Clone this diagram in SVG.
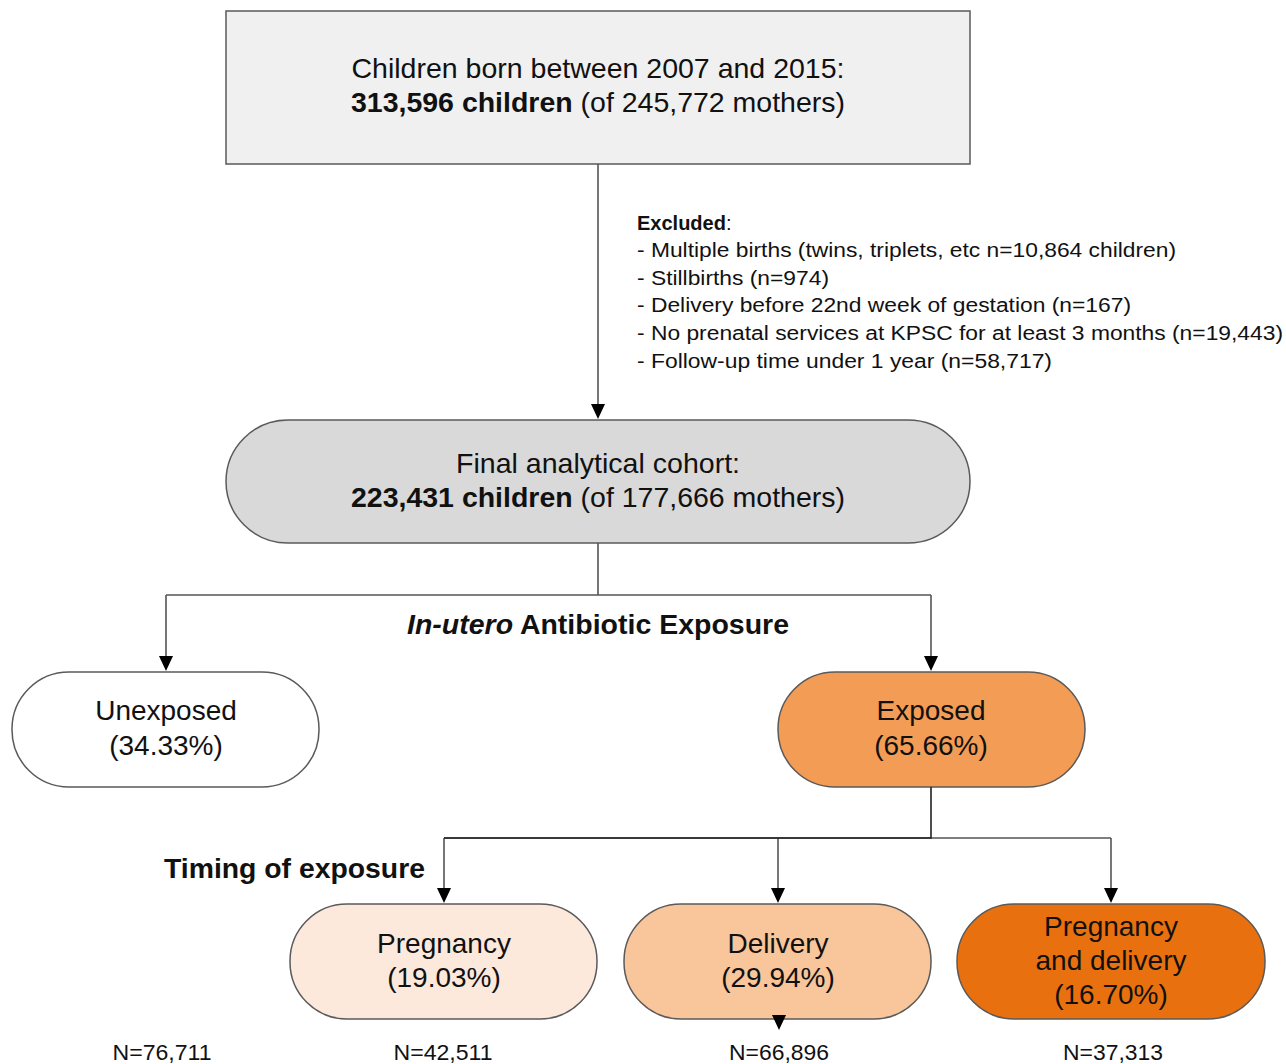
<svg xmlns="http://www.w3.org/2000/svg" width="1286" height="1064" viewBox="0 0 1286 1064">
<style>
text{font-family:"Liberation Sans",Arial,sans-serif;fill:#111}
.nar{font-size:28px}
.box{stroke:#5a5a5a;stroke-width:1.5}
.ln{fill:none;stroke:#555;stroke-width:1.6}
.ex{font-size:20px}
.lab{font-size:28px;text-anchor:middle}
.n{font-size:22px;text-anchor:middle}
.ah{fill:#000}
</style>
<rect width="1286" height="1064" fill="#fff"/>
<g id="start">
<rect class="box" x="226" y="11" width="744" height="153" fill="#f0f0f0"/>
<text class="nar" x="598" y="78" text-anchor="middle" textLength="493" lengthAdjust="spacingAndGlyphs">Children born between 2007 and 2015:</text>
<text class="nar" x="598" y="112" text-anchor="middle" textLength="494" lengthAdjust="spacingAndGlyphs"><tspan font-weight="bold">313,596 children</tspan> (of 245,772 mothers)</text>
</g>
<g id="excluded">
<text class="ex" x="637" y="230"><tspan font-weight="bold">Excluded</tspan>:</text>
<text class="ex" x="637" y="257" textLength="539" lengthAdjust="spacingAndGlyphs">- Multiple births (twins, triplets, etc n=10,864 children)</text>
<text class="ex" x="637" y="285" textLength="192" lengthAdjust="spacingAndGlyphs">- Stillbirths (n=974)</text>
<text class="ex" x="637" y="312" textLength="494" lengthAdjust="spacingAndGlyphs">- Delivery before 22nd week of gestation (n=167)</text>
<text class="ex" x="637" y="340" textLength="646" lengthAdjust="spacingAndGlyphs">- No prenatal services at KPSC for at least 3 months (n=19,443)</text>
<text class="ex" x="637" y="368" textLength="415" lengthAdjust="spacingAndGlyphs">- Follow-up time under 1 year (n=58,717)</text>
</g>
<g id="cohort">
<rect class="box" x="226" y="420" width="744" height="123" rx="62" fill="#d9d9d9"/>
<text class="nar" x="598" y="473" text-anchor="middle" textLength="284" lengthAdjust="spacingAndGlyphs">Final analytical cohort:</text>
<text class="nar" x="598" y="507" text-anchor="middle" textLength="494" lengthAdjust="spacingAndGlyphs"><tspan font-weight="bold">223,431 children</tspan> (of 177,666 mothers)</text>
</g>
<g id="exposure-label">
<text x="598" y="634" text-anchor="middle" font-size="27" font-weight="bold" textLength="382" lengthAdjust="spacingAndGlyphs"><tspan font-style="italic">In-utero</tspan> Antibiotic Exposure</text>
</g>
<g id="unexposed">
<rect class="box" x="12" y="672" width="307" height="115" rx="57" fill="#fff"/>
<text class="lab" x="166" y="720">Unexposed</text>
<text class="lab" x="166" y="755">(34.33%)</text>
</g>
<g id="exposed">
<rect class="box" x="778" y="672" width="307" height="115" rx="57" fill="#f39c55"/>
<text class="lab" x="931" y="720">Exposed</text>
<text class="lab" x="931" y="755">(65.66%)</text>
</g>
<g id="timing-label">
<text x="164" y="878" font-size="27" font-weight="bold" textLength="261" lengthAdjust="spacingAndGlyphs">Timing of exposure</text>
</g>
<g id="pregnancy">
<rect class="box" x="290" y="904" width="307" height="115" rx="57" fill="#fce9dc"/>
<text class="lab" x="444" y="953">Pregnancy</text>
<text class="lab" x="444" y="987">(19.03%)</text>
</g>
<g id="delivery">
<rect class="box" x="624" y="904" width="307" height="115" rx="57" fill="#f9c59b"/>
<text class="lab" x="778" y="953">Delivery</text>
<text class="lab" x="778" y="987">(29.94%)</text>
</g>
<g id="preg-delivery">
<rect class="box" x="957" y="904" width="308" height="115" rx="57" fill="#e8700f"/>
<text class="lab" x="1111" y="936">Pregnancy</text>
<text class="lab" x="1111" y="970">and delivery</text>
<text class="lab" x="1111" y="1004">(16.70%)</text>
</g>
<g id="counts">
<text class="n" x="162" y="1060" textLength="99" lengthAdjust="spacingAndGlyphs">N=76,711</text>
<text class="n" x="443" y="1060" textLength="99" lengthAdjust="spacingAndGlyphs">N=42,511</text>
<text class="n" x="779" y="1060" textLength="100" lengthAdjust="spacingAndGlyphs">N=66,896</text>
<text class="n" x="1113" y="1060" textLength="100" lengthAdjust="spacingAndGlyphs">N=37,313</text>
</g>
<g id="connectors">
<path class="ln" d="M598,164 V404"/>
<path class="ah" d="M591,404 L605,404 L598,419 Z"/>
<path class="ln" d="M598,543 V595 M166,595 H931 M166,595 V656 M931,595 V656"/>
<path class="ah" d="M159,656 L173,656 L166,671 Z"/>
<path class="ah" d="M924,656 L938,656 L931,671 Z"/>
<path class="ln" d="M444,838 H1111 M444,838 V888 M778,838 V888 M1111,838 V888"/>
<path d="M931,787 V838 H444" fill="none" stroke="#222" stroke-width="1.6"/>
<path class="ah" d="M437,888 L451,888 L444,903 Z"/>
<path class="ah" d="M771,888 L785,888 L778,903 Z"/>
<path class="ah" d="M1104,888 L1118,888 L1111,903 Z"/>
<path class="ah" d="M772,1015 L786,1015 L779,1030 Z"/>
</g>
</svg>
